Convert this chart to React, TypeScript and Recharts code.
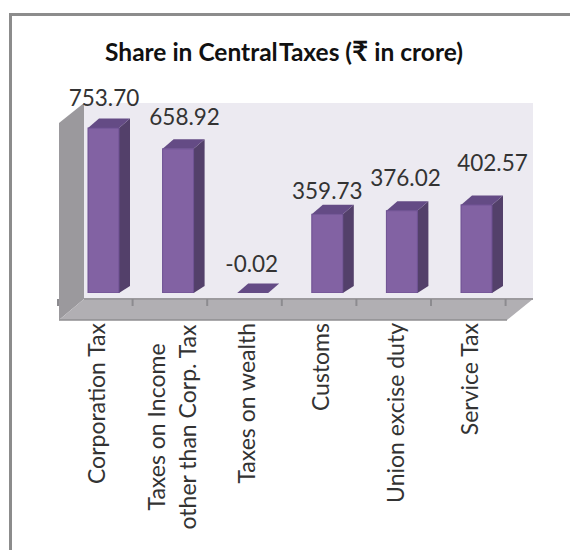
import { Bar, BarChart, LabelList, XAxis, YAxis, usePlotArea } from 'recharts';

const categories = ["Corporation Tax", "Taxes on Income\nother than Corp. Tax", "Taxes on wealth", "Customs", "Union excise duty", "Service Tax"];
const shareValues = [753.70, 658.92, -0.02, 359.73, 376.02, 402.57];
const valueLabels = ["753.70", "658.92", "-0.02", "359.73", "376.02", "402.57"];

const chartData = categories.map((name, i) => ({ name, share: shareValues[i] }));

// the source chart has hand-dragged data labels, so each one gets its own nudge
const labelNudgeX = [0.5, 6.5, -1, 0, 3.6, 16];
const labelNudgeY = [-30, -32, -29, -23, -33, -42];

const font = "Lato, 'Noto Sans', sans-serif";
const depthX = 25;

const Scene = () => {
  const plot = usePlotArea();
  if (!plot) return null;
  const left = plot.x - 7;
  const backY = plot.y + plot.height + 6;
  const topY = plot.y + 7;
  const step = plot.width / categories.length;
  const ticks = Array.from({ length: categories.length + 1 }, (_, i) => plot.x - 8 + step * i);
  return (
    <g>
      <rect x={left + depthX} y={topY} width={449} height={backY - topY} fill="#ECEAF1" />
      <polygon points={`${left},${topY + 20} ${left + depthX},${topY} ${left + depthX},${backY} ${left},${backY + 21}`} fill="#9B999D" />
      <polygon points={`${left + depthX},${backY} ${left + depthX + 449},${backY} ${left + 448},${backY + 21} ${left},${backY + 21}`} fill="#B1AFB3" />
      <line x1={left + depthX} y1={backY} x2={left + depthX + 449} y2={backY} stroke="#9C9A9E" strokeWidth={2} />
      <line x1={left} y1={backY + 21} x2={left + 448} y2={backY + 21} stroke="#8F8E91" strokeWidth={1.5} />
      {ticks.map((x) => (
        <line key={x} x1={x} y1={backY} x2={x} y2={backY + 7} stroke="#8C8B8F" strokeWidth={2} />
      ))}
    </g>
  );
};

const Bar3D = ({ x, y, width, height }: any) => {
  const dx = 11;
  const top = 9.5;
  const bottom = 7;
  const base = y + height;
  const flat = Math.abs(height) < 1;
  return (
    <g>
      {!flat && <polygon points={`${x + width},${y} ${x + width + dx},${y - top} ${x + width + dx},${base - bottom} ${x + width},${base}`} fill="#53406A" />}
      <polygon points={`${x},${y} ${x + dx},${y - top} ${x + width + dx},${y - top} ${x + width},${y}`} fill="#644B85" />
      {!flat && <rect x={x} y={y} width={width} height={height} fill="#8262A3" stroke="#6C4F91" strokeWidth={1} />}
    </g>
  );
};

const ValueLabel = ({ x, y, width, index }: any) => (
  <text
    x={x + width / 2 + labelNudgeX[index]}
    y={y + labelNudgeY[index] + 8}
    textAnchor="middle"
    fontFamily={font}
    fontSize={22.5}
    fill="#333"
  >
    {valueLabels[index]}
  </text>
);

const CategoryTick = ({ x, y, payload }: any) => {
  const lines = String(payload.value).split("\n");
  const twoLines = lines.length > 1;
  return (
    <g transform={`translate(${x + 2},${twoLines ? 427 : y + 30}) rotate(-90)`}>
      {lines.map((line, i) => (
        <text
          key={line}
          x={0}
          y={twoLines ? i * 31 - 15 : 0}
          textAnchor={twoLines ? "middle" : "end"}
          fontFamily={font}
          fontSize={23}
          fill="#333"
        >
          {line}
        </text>
      ))}
    </g>
  );
};

export default function App() {
  return (
    <div style={{ position: "absolute", left: 0, top: 0, width: 570, height: 550, background: "#fff", overflow: "hidden" }}>
      <div style={{ position: "absolute", left: 9, top: 13, width: 600, height: 600, borderLeft: "3px solid #8C8C8C", borderTop: "3px solid #8C8C8C" }} />
      <div style={{ position: "absolute", left: 0, top: 0 }}>
        <BarChart
          width={570}
          height={550}
          data={chartData}
          margin={{ top: 96, right: 56.4, bottom: 227, left: 66 }}
          barSize={31}
        >
          <text x={284} y={61} textAnchor="middle" fontFamily={font} fontWeight={700} fontSize={24.5} fill="#111">
            Share in Central<tspan dx={-4}> Taxes (</tspan><tspan fontSize={28}>₹</tspan> in crore)
          </text>
          <Scene />
          <XAxis dataKey="name" axisLine={false} tickLine={false} tickSize={0} tickMargin={0} height={30} interval={0} tick={<CategoryTick />} />
          <YAxis hide width={0} domain={[0, 900]} allowDataOverflow />
          <Bar dataKey="share" isAnimationActive={false} shape={<Bar3D />}>
            <LabelList dataKey="share" content={<ValueLabel />} />
          </Bar>
        </BarChart>
      </div>
    </div>
  );
}
